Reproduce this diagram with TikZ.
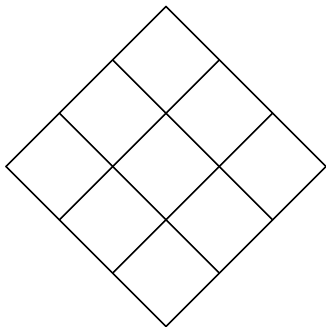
\documentclass[tikz,border=0pt]{standalone}
\usepackage{tikz}

\begin{document}
\begin{tikzpicture}[
  x=1pt, y=1pt,
  gridline/.style={draw=black, line width=1.6pt, line cap=round},
]
\useasboundingbox (0,0) rectangle (325,327);

% rotated 3x3 board
\begin{scope}[shift={(166,160.5)}, rotate=45]
  \foreach \i in {0,1,2,3} {
    \draw[gridline] (-113.14+\i*75.42,-113.14) -- (-113.14+\i*75.42,113.14);
    \draw[gridline] (-113.14,-113.14+\i*75.42) -- (113.14,-113.14+\i*75.42);
  }
\end{scope}

\end{tikzpicture}
\end{document}
